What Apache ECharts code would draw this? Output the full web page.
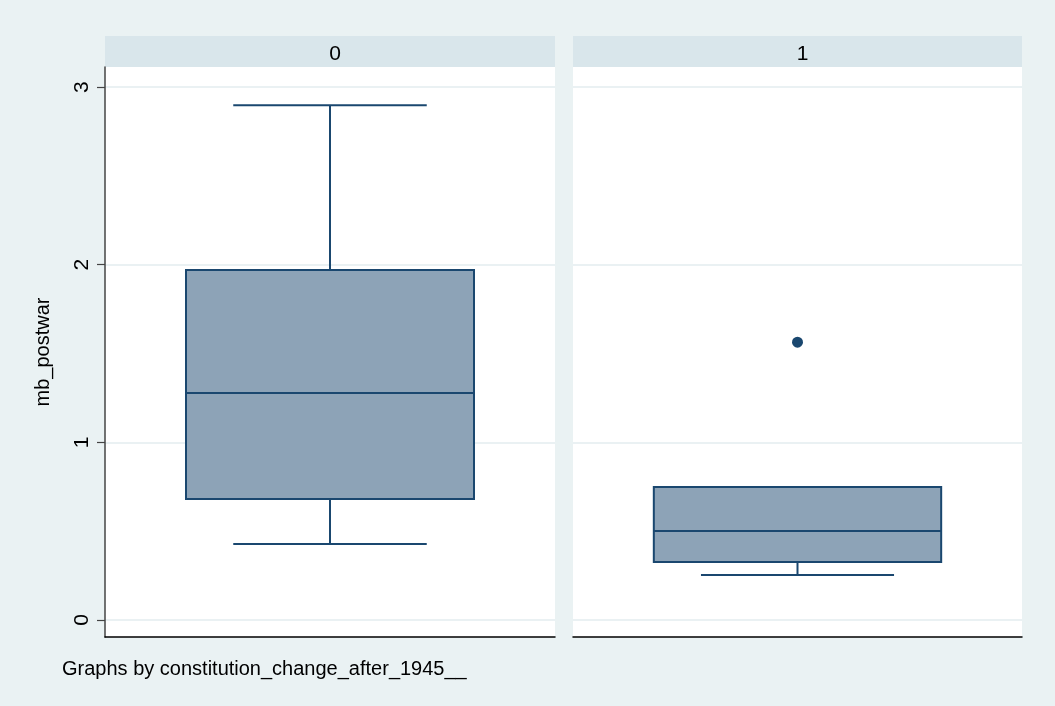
<!DOCTYPE html>
<html>
<head>
<meta charset="utf-8">
<script src="https://cdn.jsdelivr.net/npm/echarts@6/dist/echarts.min.js"></script>
<style>
html,body{margin:0;padding:0;background:#EAF2F3;}
#c{width:1055px;height:706px;}
</style>
</head>
<body>
<div id="c"></div>
<script>
// ---- data ----
const panels = ['0', '1'];
// [lowerWhisker, Q1, median, Q3, upperWhisker] per panel
const boxStats = [
  [0.428, 0.681, 1.277, 1.970, 2.898],
  [0.253, 0.326, 0.501, 0.748, 0.748]
];
const outliers = [
  [],
  [1.564]
];
const yTicks = [0, 1, 2, 3];
const yTitle = 'mb_postwar';
const note = 'Graphs by constitution_change_after_1945__';

const FONT = "'Liberation Sans', Arial, sans-serif";
const NAVY = '#1A476F';
const FILL = '#8DA3B7';
const GRID = '#E3ECEF';
const Y_MIN = -0.096, Y_MAX = 3.113;

const grids = [
  {left: 105, width: 450, top: 67, height: 570},
  {left: 573, width: 449, top: 67, height: 570}
];

const chart = echarts.init(document.getElementById('c'), null, {renderer: 'canvas'});

function renderBox(params, api) {
  const x = api.value(0);
  const lo = api.value(1), q1 = api.value(2), med = api.value(3), q3 = api.value(4), hi = api.value(5);
  const full = api.size([1, 0])[0];
  const bw = full * 0.64, cw = full * 0.43;
  const pLo = api.coord([x, lo]), pQ1 = api.coord([x, q1]), pMed = api.coord([x, med]),
        pQ3 = api.coord([x, q3]), pHi = api.coord([x, hi]);
  const cx = pMed[0];
  const ls = {stroke: NAVY, lineWidth: 2};
  const children = [];
  if (hi > q3) {
    children.push({type: 'line', shape: {x1: cx, y1: pQ3[1], x2: cx, y2: pHi[1]}, style: ls});
    children.push({type: 'line', shape: {x1: cx - cw / 2, y1: pHi[1], x2: cx + cw / 2, y2: pHi[1]}, style: ls});
  }
  if (lo < q1) {
    children.push({type: 'line', shape: {x1: cx, y1: pQ1[1], x2: cx, y2: pLo[1]}, style: ls});
    children.push({type: 'line', shape: {x1: cx - cw / 2, y1: pLo[1], x2: cx + cw / 2, y2: pLo[1]}, style: ls});
  }
  children.push({type: 'rect', shape: {x: cx - bw / 2, y: pQ3[1], width: bw, height: pQ1[1] - pQ3[1]},
    style: {fill: FILL, stroke: NAVY, lineWidth: 2}});
  children.push({type: 'line', shape: {x1: cx - bw / 2, y1: pMed[1], x2: cx + bw / 2, y2: pMed[1]}, style: ls});
  return {type: 'group', children: children};
}

const xAxes = grids.map((g, i) => ({
  type: 'value', gridIndex: i, min: 0, max: 1,
  axisLine: {show: true, onZero: false, lineStyle: {color: '#000', width: 1.5}},
  axisTick: {show: false}, axisLabel: {show: false}, splitLine: {show: false}
}));

const yAxes = grids.map((g, i) => ({
  type: 'value', gridIndex: i, min: Y_MIN, max: Y_MAX,
  name: i === 0 ? yTitle : '',
  nameLocation: 'middle', nameRotate: 90, nameGap: 52,
  nameTextStyle: {fontFamily: FONT, fontSize: 20, color: '#000'},
  axisLine: {show: i === 0, onZero: false, lineStyle: {color: '#444', width: 1.5}},
  axisTick: {show: i === 0, length: 8, customValues: yTicks, lineStyle: {color: '#444', width: 1.2}},
  axisLabel: {show: i === 0, customValues: yTicks, rotate: 90, margin: 12,
    fontFamily: FONT, fontSize: 21, color: '#000'},
  splitLine: {show: true, lineStyle: {color: GRID, width: 1.5}}
}));

const series = [];
boxStats.forEach((s, i) => {
  series.push({
    type: 'custom', xAxisIndex: i, yAxisIndex: i,
    renderItem: renderBox, silent: true,
    data: [[0.5].concat(s)], z: 3
  });
  series.push({
    type: 'scatter', xAxisIndex: i, yAxisIndex: i, silent: true,
    symbol: 'circle', symbolSize: 11,
    itemStyle: {color: NAVY, opacity: 1},
    data: outliers[i].map(v => [0.5, v]), z: 4
  });
});

const graphics = grids.map(g => ({
  type: 'rect', left: g.left, top: 36, shape: {width: g.width, height: 31},
  style: {fill: '#D9E6EB'}, z: -1
})).concat(grids.map(g => ({
  type: 'rect', left: g.left, top: g.top, shape: {width: g.width, height: g.height},
  style: {fill: '#FFFFFF'}, z: -1
})));

const titles = panels.map((p, i) => ({
  text: p, left: grids[i].left + grids[i].width / 2, top: 39, textAlign: 'center',
  textStyle: {fontFamily: FONT, fontSize: 21, fontWeight: 'normal', color: '#000'}
})).concat([{
  text: note, left: 57, top: 654,
  textStyle: {fontFamily: FONT, fontSize: 20, fontWeight: 'normal', color: '#000'}
}]);

chart.setOption({
  backgroundColor: '#EAF2F3',
  animation: false,
  title: titles,
  graphic: graphics,
  grid: grids.map(g => Object.assign({containLabel: false}, g)),
  xAxis: xAxes,
  yAxis: yAxes,
  series: series
});
</script>
</body>
</html>
